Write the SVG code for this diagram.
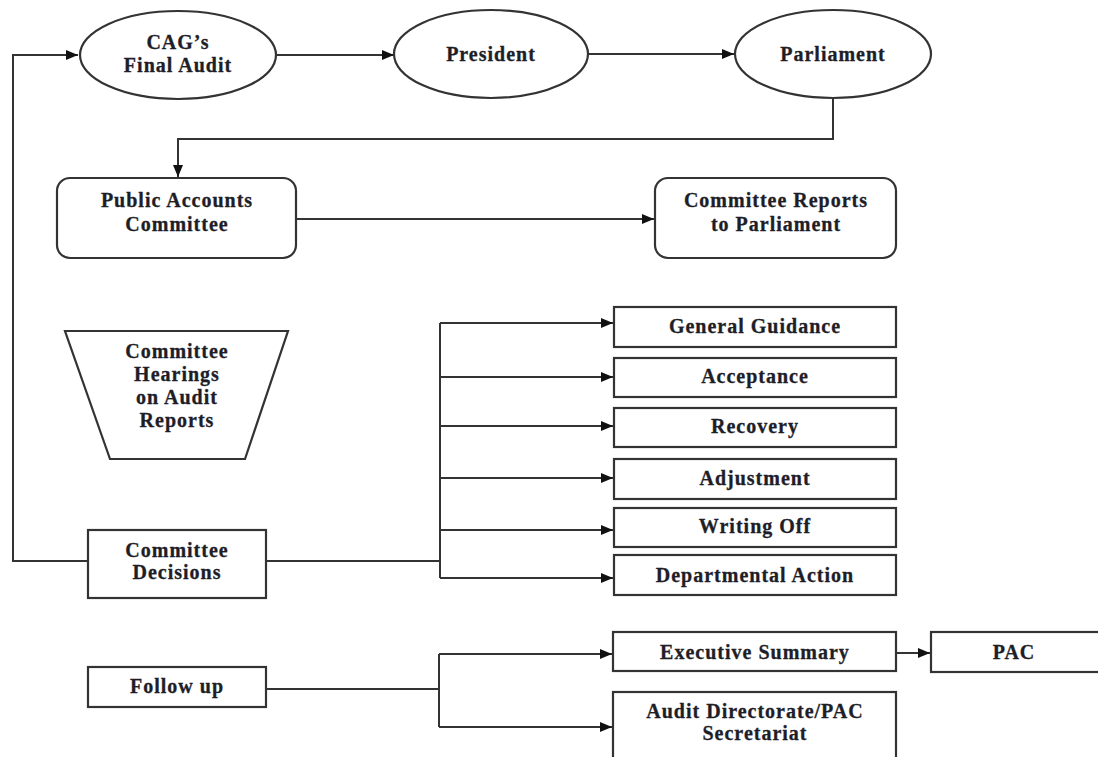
<svg xmlns="http://www.w3.org/2000/svg" width="1098" height="757" viewBox="0 0 1098 757">
<style>
.n{fill:#fff;stroke:#333;stroke-width:2.2}
.c{fill:none;stroke:#333;stroke-width:2}
.t{font-family:"Liberation Serif","Times New Roman",serif;font-weight:bold;font-size:20px;letter-spacing:1px;fill:#1e1e28;stroke:#1e1e28;stroke-width:0.3;text-anchor:middle}
</style>
<defs>
<marker id="ah" markerUnits="userSpaceOnUse" markerWidth="13" markerHeight="11" refX="12" refY="5" orient="auto">
<path d="M0,0 L12,5 L0,10 z" fill="#111"/>
</marker>
</defs>
<rect width="1098" height="757" fill="#fff"/>
<g id="connectors">
<path class="c" d="M88,561 H13 V55 H78" marker-end="url(#ah)"/>
<path class="c" d="M276,55 H394" marker-end="url(#ah)"/>
<path class="c" d="M588,54 H734" marker-end="url(#ah)"/>
<path class="c" d="M833,98 V139 H178 V177" marker-end="url(#ah)"/>
<path class="c" d="M296,219 H654" marker-end="url(#ah)"/>
<path class="c" d="M266,561 H440"/>
<path class="c" d="M440,323 V578"/>
<path class="c" d="M440,323 H613" marker-end="url(#ah)"/>
<path class="c" d="M440,377 H613" marker-end="url(#ah)"/>
<path class="c" d="M440,426 H613" marker-end="url(#ah)"/>
<path class="c" d="M440,478 H613" marker-end="url(#ah)"/>
<path class="c" d="M440,530 H613" marker-end="url(#ah)"/>
<path class="c" d="M440,578 H613" marker-end="url(#ah)"/>
<path class="c" d="M266,689 H439"/>
<path class="c" d="M439,654 V727"/>
<path class="c" d="M439,654 H612" marker-end="url(#ah)"/>
<path class="c" d="M439,727 H612" marker-end="url(#ah)"/>
<path class="c" d="M896,653 H930" marker-end="url(#ah)"/>
</g>
<g id="cag">
<ellipse class="n" cx="178" cy="55" rx="98" ry="44"/>
<text class="t" x="178" y="49">CAG’s</text>
<text class="t" x="178" y="72">Final Audit</text>
</g>
<g id="president">
<ellipse class="n" cx="491" cy="54" rx="97" ry="44"/>
<text class="t" x="491" y="61">President</text>
</g>
<g id="parliament">
<ellipse class="n" cx="833" cy="54" rx="98" ry="44"/>
<text class="t" x="833" y="61">Parliament</text>
</g>
<g id="pac-committee">
<rect class="n" x="57" y="178" width="239" height="80" rx="13"/>
<text class="t" x="177" y="207">Public Accounts</text>
<text class="t" x="177" y="231">Committee</text>
</g>
<g id="committee-reports">
<rect class="n" x="655" y="178" width="241" height="80" rx="13"/>
<text class="t" x="776" y="207">Committee Reports</text>
<text class="t" x="776" y="231">to Parliament</text>
</g>
<g id="hearings">
<polygon class="n" points="65,331 288,331 245,459 110,459"/>
<text class="t" x="177" y="358">Committee</text>
<text class="t" x="177" y="381">Hearings</text>
<text class="t" x="177" y="404">on Audit</text>
<text class="t" x="177" y="427">Reports</text>
</g>
<g id="decisions">
<rect class="n" x="88" y="530" width="178" height="68"/>
<text class="t" x="177" y="557">Committee</text>
<text class="t" x="177" y="579">Decisions</text>
</g>
<g id="general-guidance">
<rect class="n" x="614" y="307" width="282" height="40"/>
<text class="t" x="755" y="333">General Guidance</text>
</g>
<g id="acceptance">
<rect class="n" x="614" y="358" width="282" height="39"/>
<text class="t" x="755" y="383">Acceptance</text>
</g>
<g id="recovery">
<rect class="n" x="614" y="408" width="282" height="39"/>
<text class="t" x="755" y="433">Recovery</text>
</g>
<g id="adjustment">
<rect class="n" x="614" y="459" width="282" height="40"/>
<text class="t" x="755" y="485">Adjustment</text>
</g>
<g id="writing-off">
<rect class="n" x="614" y="508" width="282" height="39"/>
<text class="t" x="755" y="533">Writing Off</text>
</g>
<g id="departmental-action">
<rect class="n" x="614" y="555" width="282" height="40"/>
<text class="t" x="755" y="582">Departmental Action</text>
</g>
<g id="follow-up">
<rect class="n" x="88" y="667" width="178" height="40"/>
<text class="t" x="177" y="693">Follow up</text>
</g>
<g id="executive-summary">
<rect class="n" x="613" y="632" width="283" height="39"/>
<text class="t" x="755" y="659">Executive Summary</text>
</g>
<g id="pac">
<rect class="n" x="931" y="632" width="170" height="40"/>
<text class="t" x="1014" y="659">PAC</text>
</g>
<g id="audit-directorate">
<rect class="n" x="613" y="692" width="283" height="70"/>
<text class="t" x="755" y="718">Audit Directorate/PAC</text>
<text class="t" x="755" y="740">Secretariat</text>
</g>
</svg>
